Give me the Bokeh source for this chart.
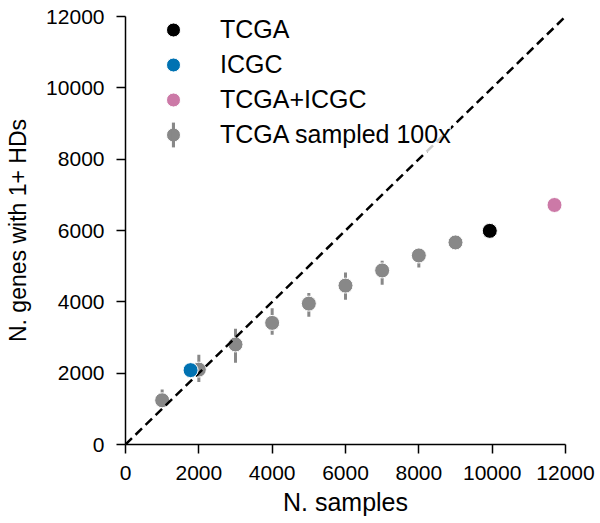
from bokeh.plotting import figure
from bokeh.models import Range1d, Legend, LegendItem, FixedTicker, ColumnDataSource
from bokeh.embed import file_html
from bokeh.resources import INLINE

# ---- data ----
sampled_n = [1000, 2000, 3000, 4000, 5000, 6000, 7000, 8000, 9000]
sampled_genes = [1240, 2100, 2805, 3410, 3950, 4455, 4880, 5300, 5665]
sampled_low = [1050, 1750, 2290, 3075, 3580, 4060, 4480, 4965, 5520]
sampled_high = [1545, 2515, 3245, 3820, 4250, 4825, 5150, 5495, 5810]

tcga_n = [9935]
tcga_genes = [5990]
icgc_n = [1775]
icgc_genes = [2085]
combined_n = [11700]
combined_genes = [6715]

diag = [0, 12000]
ticks = [0, 2000, 4000, 6000, 8000, 10000, 12000]

labels = ["TCGA", "ICGC", "TCGA+ICGC", "TCGA sampled 100x"]
colors = ["#000000", "#0072B2", "#CC79A7", "#888888"]

FONT = "Liberation Sans"

p = figure(width=600, height=523,
           x_range=Range1d(0, 12000), y_range=Range1d(0, 12000),
           output_backend="svg", toolbar_location=None,
           min_border_left=125, min_border_right=35,
           min_border_top=16, min_border_bottom=79)

p.xgrid.grid_line_color = None
p.ygrid.grid_line_color = None
p.outline_line_color = None
p.background_fill_color = "white"

# error bars (drawn as thin rects, 3px wide in screen units)
err_src = ColumnDataSource(dict(
    x=sampled_n,
    y=[(lo + hi) / 2 for lo, hi in zip(sampled_low, sampled_high)],
    h=[hi - lo for lo, hi in zip(sampled_low, sampled_high)],
))
r_err = p.rect(x="x", y="y", width=3, height="h", width_units="screen",
               source=err_src, fill_color=colors[3], line_color=None)

r_sampled = p.scatter(sampled_n, sampled_genes, size=15, fill_color=colors[3],
                      line_color="white", line_width=1)

p.line(diag, diag, line_color="black", line_width=2.5, line_dash="9 5")

r_tcga = p.scatter(tcga_n, tcga_genes, size=15, fill_color=colors[0],
                   line_color="white", line_width=1)
r_icgc = p.scatter(icgc_n, icgc_genes, size=15, fill_color=colors[1],
                   line_color="white", line_width=1)
r_comb = p.scatter(combined_n, combined_genes, size=15, fill_color=colors[2],
                   line_color="white", line_width=1)

# axes
for ax in (p.xaxis, p.yaxis):
    ax.ticker = FixedTicker(ticks=ticks)
    ax.axis_line_width = 1.5
    ax.axis_line_color = "black"
    ax.major_tick_line_width = 1.5
    ax.major_tick_line_color = "black"
    ax.major_tick_out = 9
    ax.major_tick_in = 0
    ax.minor_tick_out = 0
    ax.minor_tick_in = 0
    ax.major_label_text_font = FONT
    ax.major_label_text_font_size = "21px"
    ax.major_label_text_color = "black"
    ax.axis_label_text_font = FONT
    ax.axis_label_text_font_style = "normal"
    ax.axis_label_text_color = "black"

p.xaxis.axis_label = "N. samples"
p.yaxis.axis_label = "N. genes with 1+ HDs"
p.xaxis.axis_label_text_font_size = "25px"
p.yaxis.axis_label_text_font_size = "23px"
p.xaxis.major_label_standoff = 12
p.yaxis.major_label_standoff = 12
p.xaxis.axis_label_standoff = 5
p.yaxis.axis_label_standoff = 12

# main legend (location = offset of the item block from the frame's bottom-left)
items = [
    LegendItem(label=labels[0], renderers=[r_tcga]),
    LegendItem(label=labels[1], renderers=[r_icgc]),
    LegendItem(label=labels[2], renderers=[r_comb]),
    LegendItem(label=labels[3], renderers=[r_sampled]),
]
legend = Legend(items=items, location=(23, 292), margin=0, padding=13,
                spacing=0, glyph_width=50, glyph_height=35, label_standoff=22,
                label_text_font=FONT, label_text_font_size="25px",
                label_text_color="black",
                border_line_color=None, background_fill_color="white",
                background_fill_alpha=0.8)
p.add_layout(legend)

# second legend: draws the error-bar part of the "sampled" legend handle
legend_err = Legend(items=[LegendItem(label=" ", renderers=[r_err])],
                    location=(46, 294), margin=0, padding=0, spacing=0,
                    glyph_width=4, glyph_height=31, label_standoff=0,
                    label_text_font_size="1px",
                    border_line_color=None, background_fill_alpha=0.0)
p.add_layout(legend_err)

open("out.html", "w").write(file_html(p, INLINE))
